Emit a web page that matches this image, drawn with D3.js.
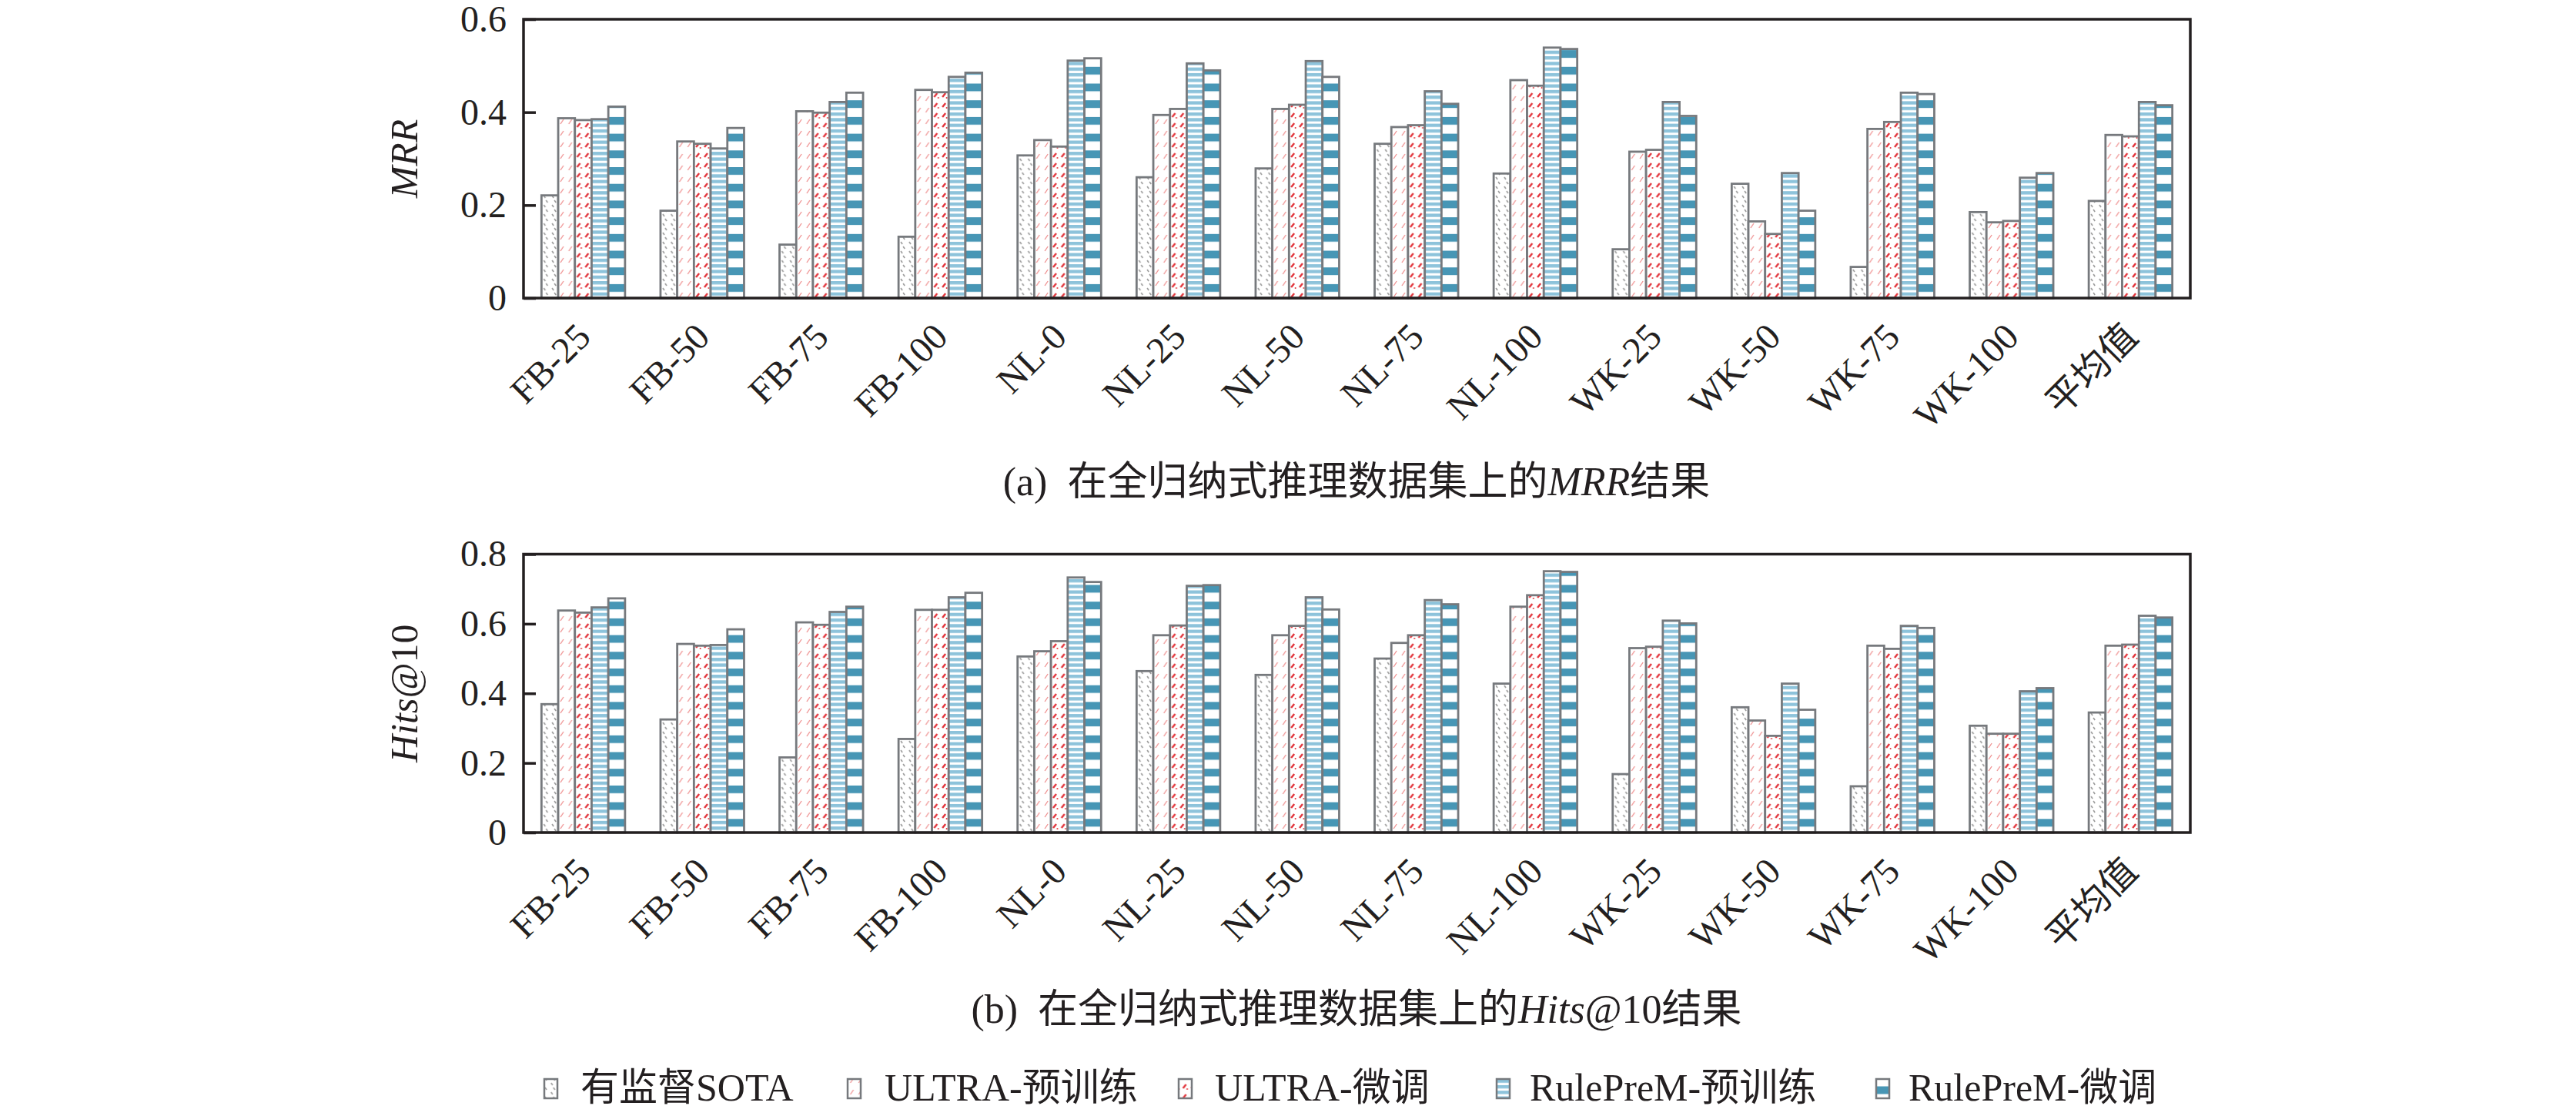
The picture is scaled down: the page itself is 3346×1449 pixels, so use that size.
<!DOCTYPE html>
<html>
<head>
<meta charset="utf-8">
<script src="https://cdn.jsdelivr.net/npm/d3@7"></script>
<style>
  body { margin: 0; background: #fff; }
  text { font-family: "Liberation Serif", "Noto Sans CJK SC", serif; fill: #231f20; }
  .cap { white-space: pre; }
</style>
</head>
<body>
<svg id="chart" width="3346" height="1449"></svg>
<script>
// data
const categories = ["FB-25", "FB-50", "FB-75", "FB-100", "NL-0", "NL-25", "NL-50", "NL-75", "NL-100",
                    "WK-25", "WK-50", "WK-75", "WK-100", "平均值"];
const seriesNames = ["有监督SOTA", "ULTRA-预训练", "ULTRA-微调", "RulePreM-预训练", "RulePreM-微调"];

const mrrSota     = [0.221, 0.188, 0.115, 0.132, 0.307, 0.260, 0.279, 0.332, 0.268, 0.105, 0.246, 0.067, 0.185, 0.209];
const mrrUltraPre = [0.387, 0.337, 0.402, 0.448, 0.340, 0.394, 0.407, 0.368, 0.469, 0.315, 0.165, 0.364, 0.163, 0.351];
const mrrUltraFt  = [0.383, 0.332, 0.399, 0.443, 0.326, 0.407, 0.416, 0.372, 0.457, 0.319, 0.138, 0.379, 0.166, 0.348];
const mrrRulePre  = [0.385, 0.322, 0.422, 0.476, 0.511, 0.505, 0.510, 0.445, 0.539, 0.422, 0.269, 0.442, 0.259, 0.422];
const mrrRuleFt   = [0.412, 0.366, 0.442, 0.485, 0.516, 0.490, 0.476, 0.418, 0.536, 0.392, 0.188, 0.439, 0.269, 0.415];

const hitsSota     = [0.369, 0.325, 0.216, 0.269, 0.506, 0.464, 0.453, 0.500, 0.428, 0.168, 0.360, 0.133, 0.307, 0.345];
const hitsUltraPre = [0.638, 0.542, 0.604, 0.640, 0.521, 0.567, 0.567, 0.545, 0.649, 0.530, 0.322, 0.537, 0.284, 0.537];
const hitsUltraFt  = [0.632, 0.537, 0.597, 0.640, 0.550, 0.595, 0.594, 0.567, 0.682, 0.534, 0.278, 0.528, 0.284, 0.540];
const hitsRulePre  = [0.647, 0.539, 0.634, 0.676, 0.733, 0.709, 0.676, 0.668, 0.751, 0.609, 0.428, 0.594, 0.406, 0.623];
const hitsRuleFt   = [0.673, 0.584, 0.649, 0.689, 0.720, 0.711, 0.641, 0.656, 0.749, 0.601, 0.353, 0.588, 0.415, 0.618];

const mrrTicks  = [0, 0.2, 0.4, 0.6];
const hitsTicks = [0, 0.2, 0.4, 0.6, 0.8];

const svg = d3.select("#chart");
svg.append("rect").attr("width", 3346).attr("height", 1449).attr("fill", "#fff");

// hatch patterns, one per series
const defs = svg.append("defs");
const patIds = ["p-sota", "p-upre", "p-uft", "p-rpre", "p-rft"];

function pattern(id, w, h) {
  const p = defs.append("pattern").attr("id", id)
    .attr("patternUnits", "userSpaceOnUse")
    .attr("width", w).attr("height", h);
  p.append("rect").attr("width", w).attr("height", h).attr("fill", "#fff");
  return p;
}
let p = pattern("p-sota", 10.8, 12);
p.append("line").attr("x1", 3).attr("y1", 2).attr("x2", 5).attr("y2", 5).attr("stroke", "#9b9b9b").attr("stroke-width", 1.6);
p.append("line").attr("x1", 6).attr("y1", 8).attr("x2", 8).attr("y2", 11).attr("stroke", "#9b9b9b").attr("stroke-width", 1.6);

p = pattern("p-upre", 10.8, 15);
p.append("line").attr("x1", 3).attr("y1", 11).attr("x2", 7).attr("y2", 5).attr("stroke", "#ef8c8c").attr("stroke-width", 1.3);

p = pattern("p-uft", 10.8, 13);
p.append("line").attr("x1", 3).attr("y1", 9).attr("x2", 7).attr("y2", 4).attr("stroke", "#e2333a").attr("stroke-width", 2.4);
p.append("circle").attr("cx", 8.5).attr("cy", 10).attr("r", 1).attr("fill", "#e2333a");

p = pattern("p-rpre", 22, 7.3);
p.append("rect").attr("y", 0).attr("width", 22).attr("height", 4.3).attr("fill", "#8dc3db");

p = pattern("p-rft", 22, 21.7);
p.append("rect").attr("y", 0).attr("width", 22).attr("height", 10).attr("fill", "#4796b5");

function panel(opts) {
  const { top, bottom, values, ticks, titleItalic, titleRest } = opts;
  const left = 680, right = 2845;

  const x0 = d3.scaleBand().domain(categories).range([left, right])
    .paddingInner(0.298).paddingOuter(0.151);
  const x1 = d3.scaleBand().domain(d3.range(seriesNames.length)).range([0, x0.bandwidth()]);
  const y = d3.scaleLinear().domain([0, ticks[ticks.length - 1]]).range([bottom, top]);

  const g = svg.append("g");

  const groups = g.selectAll("g.grp").data(categories).enter().append("g")
    .attr("class", "grp")
    .attr("transform", d => `translate(${x0(d)},0)`);

  groups.selectAll("rect").data((d, i) => values.map((s, k) => ({ k, v: s[i] })))
    .enter().append("rect")
    .attr("x", d => x1(d.k))
    .attr("y", d => y(d.v))
    .attr("width", x1.bandwidth())
    .attr("height", d => y(0) - y(d.v))
    .attr("fill", d => `url(#${patIds[d.k]})`)
    .attr("stroke", "#76797d")
    .attr("stroke-width", 2.8);

  // y axis with inward ticks
  const ya = g.append("g").attr("transform", `translate(${left},0)`)
    .call(d3.axisLeft(y).tickValues(ticks).tickSize(-16).tickPadding(22)
      .tickFormat(d => d === 0 ? "0" : d3.format(".1f")(d)));
  ya.select(".domain").remove();
  ya.selectAll("line").attr("stroke", "#231f20").attr("stroke-width", 3.5);
  ya.selectAll("text").attr("font-size", 48).attr("font-family", "Liberation Serif").attr("fill", "#231f20");

  // x labels
  const xa = g.append("g").attr("transform", `translate(0,${bottom})`)
    .call(d3.axisBottom(x0).tickSize(0));
  xa.select(".domain").remove();
  xa.selectAll("text")
    .attr("x", 0).attr("y", 0).attr("dy", 0)
    .attr("text-anchor", "end")
    .attr("transform", "translate(12,53) rotate(-45)")
    .attr("font-size", 48).attr("font-family", "Liberation Serif, Noto Sans CJK SC").attr("fill", "#231f20");

  // frame
  g.append("rect").attr("x", left).attr("y", top)
    .attr("width", right - left).attr("height", bottom - top)
    .attr("fill", "none").attr("stroke", "#231f20").attr("stroke-width", 3.5);

  // y title
  const t = g.append("text")
    .attr("transform", `translate(542,${(top + bottom) / 2}) rotate(-90)`)
    .attr("text-anchor", "middle").attr("font-size", 50);
  t.append("tspan").attr("font-style", "italic").text(titleItalic);
  if (titleRest) t.append("tspan").text(titleRest);
}

panel({ top: 25, bottom: 387, values: [mrrSota, mrrUltraPre, mrrUltraFt, mrrRulePre, mrrRuleFt],
        ticks: mrrTicks, titleItalic: "MRR" });
panel({ top: 719.5, bottom: 1081, values: [hitsSota, hitsUltraPre, hitsUltraFt, hitsRulePre, hitsRuleFt],
        ticks: hitsTicks, titleItalic: "Hits", titleRest: "@10" });

// captions
function caption(yPos, pre, ital, post) {
  const t = svg.append("text").attr("class", "cap").attr("x", 1762).attr("y", yPos)
    .attr("text-anchor", "middle").attr("font-size", 52);
  t.append("tspan").text(pre);
  t.append("tspan").attr("font-style", "italic").text(ital);
  t.append("tspan").text(post);
}
caption(643, "(a)  在全归纳式推理数据集上的", "MRR", "结果");
caption(1328, "(b)  在全归纳式推理数据集上的", "Hits", "@10结果");

// legend
const legendSwatchX = [707, 1101, 1531, 1944, 2437];
const legendTextX = [754, 1149, 1578, 1987, 2479];
const lg = svg.append("g");
seriesNames.forEach((name, k) => {
  lg.append("rect").attr("x", legendSwatchX[k]).attr("y", 1401)
    .attr("width", 17).attr("height", 25)
    .attr("fill", `url(#${patIds[k]})`).attr("stroke", "#76797d").attr("stroke-width", 2.5);
  lg.append("text").attr("x", legendTextX[k]).attr("y", 1429)
    .attr("font-size", 50).text(name);
});
</script>
</body>
</html>
